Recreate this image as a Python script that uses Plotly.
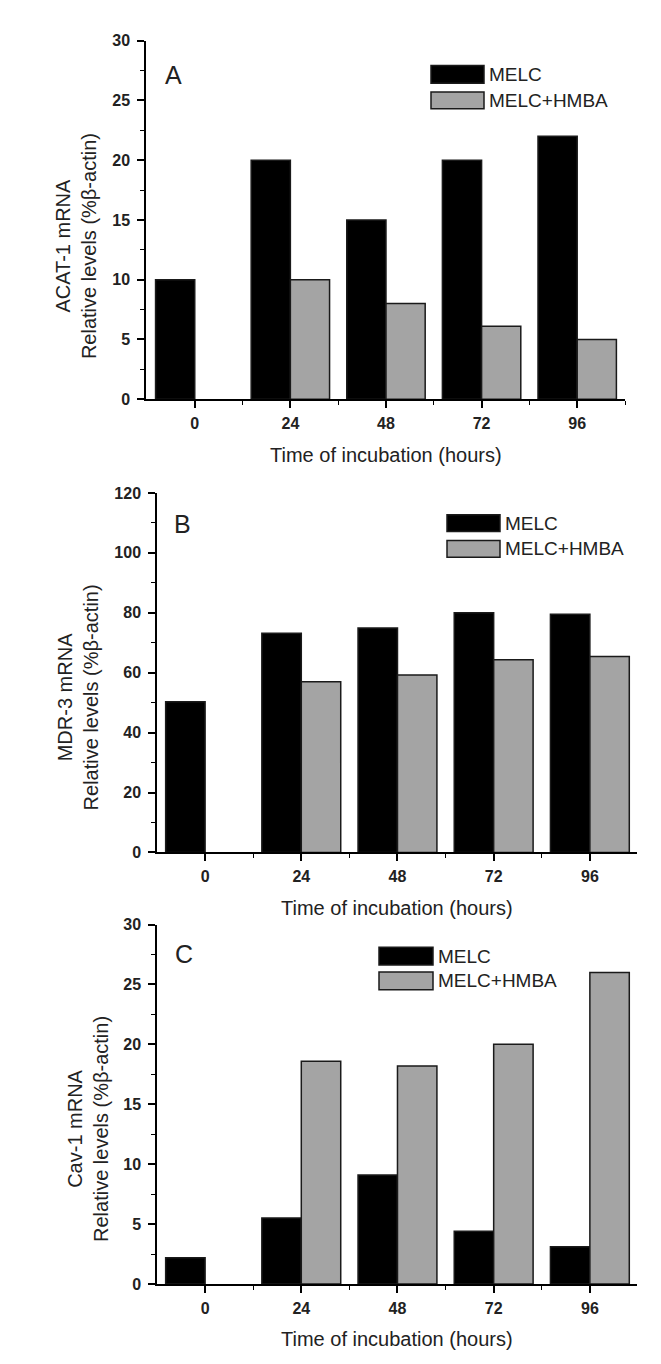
import plotly.graph_objects as go

# ---- data ----
hours = ["0", "24", "48", "72", "96"]
series_names = ["MELC", "MELC+HMBA"]

acat_melc = [10, 20, 15, 20, 22]
acat_hmba = [None, 10, 8, 6.1, 5]

mdr_melc = [50.3, 73.2, 74.9, 80, 79.5]
mdr_hmba = [None, 57, 59.2, 64.3, 65.4]

cav_melc = [2.2, 5.5, 9.1, 4.4, 3.1]
cav_hmba = [None, 18.6, 18.2, 20.0, 26.0]

panel_letters = ["A", "B", "C"]
gene_labels = ["ACAT-1 mRNA", "MDR-3 mRNA", "Cav-1 mRNA"]
y_label_2 = "Relative levels (%β-actin)"
x_title = "Time of incubation (hours)"
y_max = [30, 120, 30]
y_dtick = [5, 20, 5]

# ---- layout helpers (pixels -> paper) ----
W, H = 661, 1364
def fx(x):
    return x / W
def fy(y):
    return 1 - y / H

panels = [
    dict(x0=138, x1=617, y0=25, y1=388, xr=[-0.51, 4.5],
         melc=acat_melc, hmba=acat_hmba,
         letter=(165, 60), ytitle=(68, 233), xtitle=445,
         leg=dict(bx0=423, bx1=476, r1=(50, 68), r2=(77, 94), tx=479)),
    dict(x0=149, x1=629, y0=483, y1=847, xr=[-0.5, 4.49],
         melc=mdr_melc, hmba=mdr_hmba,
         letter=(174, 514), ytitle=(70, 690), xtitle=903,
         leg=dict(bx0=439, bx1=492, r1=(505, 522), r2=(531, 548), tx=495)),
    dict(x0=149, x1=629, y0=920, y1=1284, xr=[-0.5, 4.49],
         melc=cav_melc, hmba=cav_hmba,
         letter=(176, 950), ytitle=(80, 1127), xtitle=1340,
         leg=dict(bx0=371, bx1=425, r1=(943, 961), r2=(968, 986), tx=428)),
]

BW = 0.41
GRAY = "#a4a4a4"
EDGE = "#1a1a1a"
FONT = "Liberation Sans, Arial, sans-serif"

fig = go.Figure()
annotations = []
shapes = []
layout_axes = {}

for i, p in enumerate(panels):
    n = "" if i == 0 else str(i + 1)
    xa, ya = "x" + n, "y" + n
    idx = list(range(len(hours)))
    fig.add_trace(go.Bar(
        x=idx, y=p["melc"], name=series_names[0], offset=-BW, width=BW,
        marker=dict(color="black", line=dict(color=EDGE, width=1.5)),
        xaxis=xa, yaxis=ya, showlegend=False))
    fig.add_trace(go.Bar(
        x=idx, y=p["hmba"], name=series_names[1], offset=0, width=BW,
        marker=dict(color=GRAY, line=dict(color=EDGE, width=1.5)),
        xaxis=xa, yaxis=ya, showlegend=False))

    layout_axes["xaxis" + n] = dict(
        domain=[fx(p["x0"]), fx(p["x1"])], anchor=ya, range=p["xr"],
        tickmode="array", tickvals=idx, ticktext=hours,
        showline=True, linecolor="black", linewidth=1.5,
        ticks="outside", ticklen=7, tickwidth=1.5, tickcolor="black",
        ticklabelstandoff=2,
        minor=dict(tickmode="array", tickvals=[0.5, 1.5, 2.5, 3.5, 4.5],
                   ticks="outside", ticklen=4, tickwidth=1.2, tickcolor="black"),
        showgrid=False, zeroline=False, fixedrange=True,
        tickfont=dict(family=FONT, size=16, color="#222", weight="bold"))
    layout_axes["yaxis" + n] = dict(
        domain=[fy(p["y1"]), fy(p["y0"])], anchor=xa, range=[0, y_max[i]],
        dtick=y_dtick[i], tick0=0,
        showline=True, linecolor="black", linewidth=1.5,
        ticks="outside", ticklen=7, tickwidth=1.5, tickcolor="black",
        ticklabelstandoff=4,
        minor=dict(dtick=y_dtick[i] / 2, ticks="outside", ticklen=4,
                   tickwidth=1.2, tickcolor="black"),
        showgrid=False, zeroline=False, fixedrange=True,
        tickfont=dict(family=FONT, size=16, color="#222", weight="bold"))

    # panel letter
    annotations.append(dict(
        x=fx(p["letter"][0]), y=fy(p["letter"][1]), xref="paper", yref="paper",
        text=panel_letters[i], showarrow=False, xanchor="center", yanchor="middle",
        font=dict(family=FONT, size=25, color="#222")))
    # y title
    annotations.append(dict(
        x=fx(p["ytitle"][0]), y=fy(p["ytitle"][1]), xref="paper", yref="paper",
        text=gene_labels[i] + "<br>" + y_label_2, textangle=-90, showarrow=False,
        xanchor="center", yanchor="middle",
        font=dict(family=FONT, size=20, color="#222")))
    # x title
    annotations.append(dict(
        x=fx((p["x0"] + p["x1"]) / 2), y=fy(p["xtitle"]), xref="paper", yref="paper",
        text=x_title, showarrow=False, xanchor="center", yanchor="middle",
        font=dict(family=FONT, size=20, color="#222")))
    # legend
    lg = p["leg"]
    for (r, col, name) in [(lg["r1"], "black", series_names[0]),
                           (lg["r2"], GRAY, series_names[1])]:
        shapes.append(dict(type="rect", xref="paper", yref="paper",
                           x0=fx(lg["bx0"]), x1=fx(lg["bx1"]),
                           y0=fy(r[1]), y1=fy(r[0]),
                           fillcolor=col, line=dict(color=EDGE, width=1.5)))
        annotations.append(dict(
            x=fx(lg["tx"]), y=fy((r[0] + r[1]) / 2), xref="paper", yref="paper",
            text=name, showarrow=False, xanchor="left", yanchor="middle",
            font=dict(family=FONT, size=19, color="#222")))

fig.update_layout(
    width=W, height=H, margin=dict(l=0, r=0, t=0, b=0),
    paper_bgcolor="white", plot_bgcolor="white",
    barmode="overlay", showlegend=False,
    annotations=annotations, shapes=shapes,
    **layout_axes)

fig.write_html("out.html")
